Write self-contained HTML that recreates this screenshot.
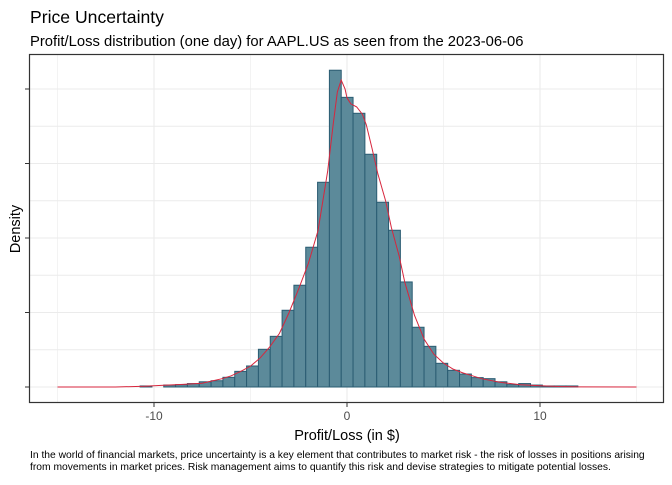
<!DOCTYPE html>
<html><head><meta charset="utf-8"><style>
body{margin:0;background:#fff;width:672px;height:480px;overflow:hidden;font-family:"Liberation Sans",Arial,sans-serif}
</style></head><body>
<svg id="chart" width="672" height="480" xmlns="http://www.w3.org/2000/svg">
<text x="30" y="23" font-size="17.6" fill="#000">Price Uncertainty</text>
<text x="30" y="46" font-size="14.8" fill="#000">Profit/Loss distribution (one day) for AAPL.US as seen from the 2023-06-06</text>
<g id="grid"></g>
<g id="bars"></g>
<g id="curve"></g>
<rect x="29.5" y="54.5" width="634" height="348" fill="none" stroke="#333" stroke-width="1.2"/>
<g id="axes"></g>
<text transform="translate(20,229) rotate(-90)" text-anchor="middle" font-size="14.5">Density</text>
<text x="347" y="440" text-anchor="middle" font-size="14.5">Profit/Loss (in $)</text>
<text x="30" y="458" font-size="10.3">In the world of financial markets, price uncertainty is a key element that contributes to market risk - the risk of losses in positions arising</text>
<text x="30" y="470" font-size="10.3">from movements in market prices. Risk management aims to quantify this risk and devise strategies to mitigate potential losses.</text>
</svg>
<script>
const binStart = -10.72;
const binWidth = 0.613;
const densities = [0.0007,0,0.0013,0.0016,0.0023,0.0035,0.0042,0.0065,0.0105,0.0141,0.0253,0.0340,0.0515,0.0683,0.0938,0.1374,0.2126,0.1944,0.1837,0.1562,0.1240,0.1052,0.0705,0.0401,0.0273,0.0159,0.0112,0.0087,0.0063,0.0056,0.0035,0.0016,0.0023,0.0013,0.0007,0.0007,0.0007];
const curveX = [-15,-12,-10.5,-9.5,-8.5,-7.5,-7,-6.5,-6,-5.5,-5,-4.5,-4,-3.5,-3,-2.5,-2,-1.5,-1,-0.7,-0.5,-0.3,-0.1,0,0.2,0.5,0.8,1,1.3,1.6,2,2.3,2.7,3,3.5,4,4.5,5,5.5,6,6.5,7,8,9,10,11,12,15];
const curveY = [0,0,0.0005,0.0012,0.0018,0.0025,0.004,0.0055,0.0075,0.0105,0.014,0.0195,0.027,0.036,0.050,0.066,0.083,0.105,0.145,0.178,0.198,0.206,0.2,0.194,0.19,0.188,0.183,0.176,0.16,0.143,0.125,0.107,0.088,0.07,0.048,0.032,0.022,0.016,0.012,0.0095,0.0075,0.0055,0.003,0.0015,0.0008,0.0003,0.0001,0];
const xTicks = [-10,0,10];
const yTicks = [0,0.05,0.1,0.15,0.2];
const NS="http://www.w3.org/2000/svg";
const X=v=>347+v*19.3, Y=d=>387-d/0.05*74.5;
function mk(tag,attrs,parent){const e=document.createElementNS(NS,tag);for(const k in attrs)e.setAttribute(k,attrs[k]);parent.appendChild(e);return e;}
const grid=document.getElementById('grid'),bars=document.getElementById('bars'),axes=document.getElementById('axes'),curve=document.getElementById('curve');
for(let v=-15;v<=15;v+=5){const l=mk('line',{x1:X(v),x2:X(v),y1:54.5,y2:402.5,stroke:'#ebebeb','stroke-width':v%10===0?1.1:0.6},grid);

}
for(let d=0;d<=0.2001;d+=0.025){const l=mk('line',{x1:29.5,x2:663.5,y1:Y(d),y2:Y(d),stroke:'#ebebeb','stroke-width':0.9},grid);

}
densities.forEach((d,i)=>{if(d<=0)return;const x0=X(binStart+i*binWidth),x1=X(binStart+(i+1)*binWidth);
const r=mk('rect',{x:x0,y:Y(d),width:x1-x0,height:Y(0)-Y(d),fill:'#5c8a9a',stroke:'#2a5c72','stroke-width':1},bars);

});
const p=mk('polyline',{points:curveX.map((x,i)=>X(x)+','+Y(curveY[i])).join(' '),fill:'none',stroke:'#d7263d','stroke-width':1},curve);


xTicks.forEach(v=>{const t=mk('line',{x1:X(v),x2:X(v),y1:402.5,y2:407,stroke:'#333'},axes);


const s=mk('text',{x:X(v),y:420,'text-anchor':'middle','font-size':12,fill:'#4d4d4d'},axes);s.textContent=v;

});
yTicks.forEach(d=>{const t=mk('line',{x1:25,x2:29.5,y1:Y(d),y2:Y(d),stroke:'#333'},axes);

});
</script>
</body></html>
